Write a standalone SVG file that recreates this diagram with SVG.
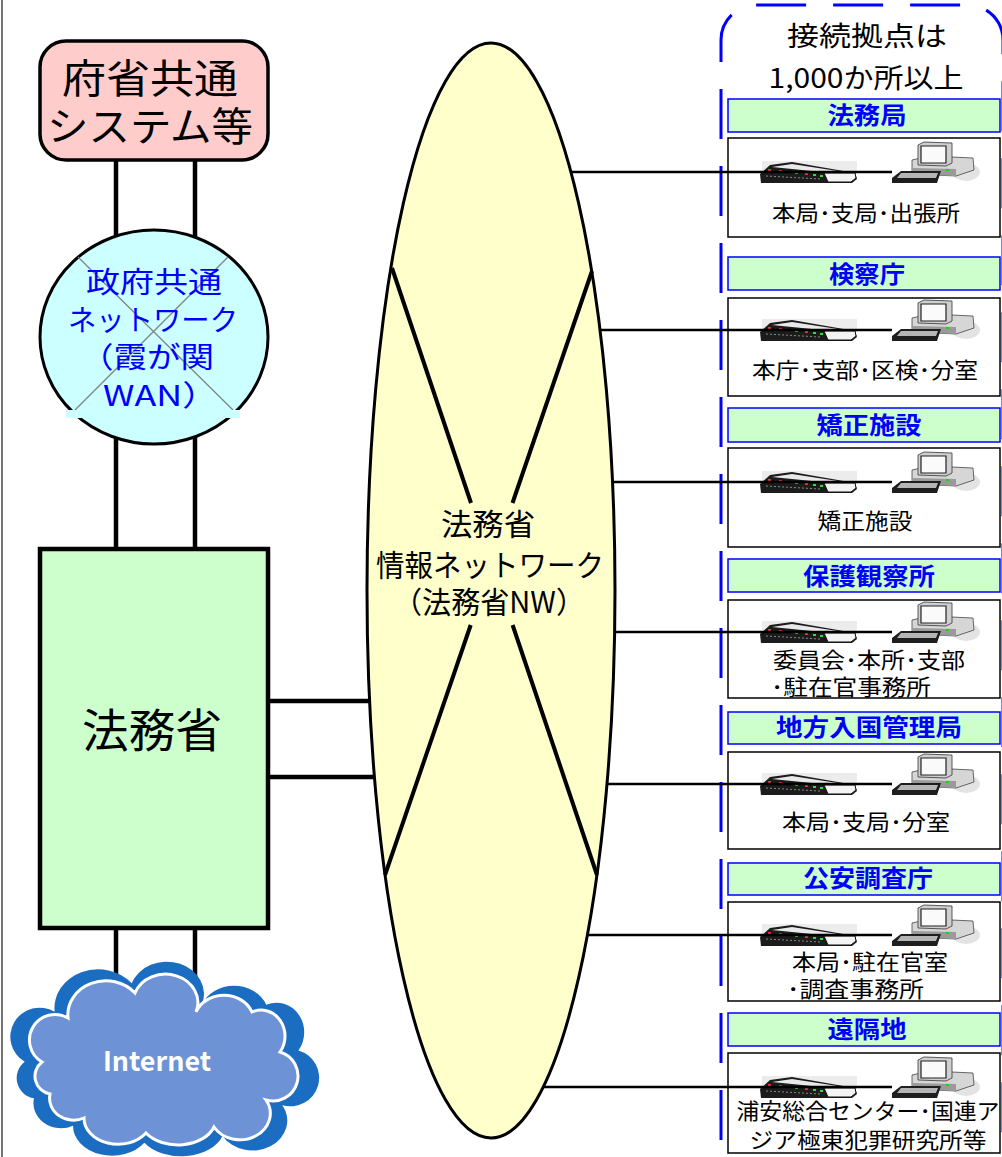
<svg xmlns="http://www.w3.org/2000/svg" xmlns:xlink="http://www.w3.org/1999/xlink" width="1002" height="1157" viewBox="0 0 1002 1157">
  <style>
    text { font-family: "Noto Sans CJK JP", "Noto Sans CJK SC", sans-serif; }
    .dark { fill: #000; }
    .blue { fill: #0000ff; }
    .cat { fill: #ccffcc; stroke: #0000ff; stroke-width: 1.5; }
    .site { fill: #ffffff; stroke: #000; stroke-width: 1.5; }
    .catText { fill: #0000ff; font-weight: bold; font-size: 24px; text-anchor: middle; }
    .siteText { fill: #000; font-size: 22px; }
    .mid { text-anchor: middle; }
    .heavy { stroke: #000; stroke-width: 4.5; fill: none; }
    .light { stroke: #000; stroke-width: 2.3; fill: none; }
    .cross { stroke: #000; stroke-width: 4; }
  </style>
  <defs>
    <!-- network switch -->
    <g id="router">
      <rect x="2" y="-11" width="95" height="13" fill="#ececec"/>
      <path d="M0,2 L10,-7 L32,-10 L95,1 L97,7 L92,11 L1,11 Z" fill="#1c1c1c"/>
      <path d="M12,-5 L32,-8 L84,0 L62,0 Z" fill="#e9e9e9"/>
      <path d="M64,1 L95,1 L96,6 L91,10 L68,10 Z" fill="#f4f4f4" stroke="#111" stroke-width="1"/>
      <rect x="8" y="-3" width="3" height="2" fill="#e33"/>
      <rect x="19" y="-2" width="3" height="2" fill="#e33"/>
      <rect x="27" y="-1" width="3" height="2" fill="#3d3"/>
      <rect x="35" y="0" width="3" height="2" fill="#3d3"/>
      <rect x="45" y="1" width="3" height="2" fill="#e33"/>
      <rect x="53" y="2" width="3" height="2" fill="#3d3"/>
      <rect x="60" y="3" width="3" height="2" fill="#3d3"/>
      <path d="M6,4 L60,7" stroke="#888" stroke-width="1" stroke-dasharray="2 2"/>
    </g>
    <!-- desktop computer -->
    <g id="pc">
      <ellipse cx="206" cy="0" rx="14" ry="9" fill="#e3e3e3"/>
      <path d="M152,-12 L170,-16 L213,-14 L214,-2 L196,4 L152,2 Z" fill="#d6d6d6" stroke="#444" stroke-width="0.8"/>
      <path d="M152,-4 L196,-3 L196,4 L152,2 Z" fill="#9a9a9a"/>
      <path d="M158,-27 L164,-30 L192,-29 L192,-9 L186,-6 L158,-7 Z" fill="#cfcfcf" stroke="#333" stroke-width="0.8"/>
      <path d="M161,-26 L186,-26 L186,-9 L161,-9 Z" fill="#fafafa" stroke="#222" stroke-width="1.2"/>
      <rect x="186" y="-3" width="3" height="2" fill="#2c2"/>
      <path d="M132,6 L141,-1 L181,-1 L177,11 L132,11 Z" fill="#1e1e1e"/>
      <path d="M141,1 L178,1 L176,6 L137,6 Z" fill="#b5b5b5"/>
    </g>
    <path id="cloud" d="M42,1062 A24 24 0 0 1 68,1018 A38 34 0 0 1 135,993 A32 28 0 0 1 196,1012 A30 26 0 0 1 252,1012 A24 26 0 0 1 280,1052 A24 24 0 0 1 266,1100 A30 26 0 0 1 214,1127 A38 26 0 0 1 146,1133 A34 26 0 0 1 84,1118 A24 22 0 0 1 50,1094 A18 18 0 0 1 42,1062 Z"/>
  </defs>

  <rect width="1002" height="1157" fill="#ffffff"/>
  <line x1="2" y1="0" x2="2" y2="1157" stroke="#444" stroke-width="1.5"/>

  <!-- dashed bracket around the connection sites -->
  <path d="M721,1160 L721,40 A35 35 0 0 1 756,5 L968,5 A35 35 0 0 1 1003,40 L1003,1160" fill="none" stroke="#0000ff" stroke-width="3" stroke-dasharray="50 27" stroke-dashoffset="57"/>

  <g id="sites-title">
    <text class="dark mid" x="867" y="46" font-size="27" textLength="160" lengthAdjust="spacingAndGlyphs">接続拠点は</text>
    <text class="dark mid" x="866" y="88" font-size="27" textLength="195" lengthAdjust="spacingAndGlyphs">1,000か所以上</text>
  </g>

  <!-- connection sites -->
  <g id="site-houmukyoku">
    <rect class="cat" x="728" y="99" width="272" height="33"/>
    <text class="catText" x="867" y="124" textLength="79" lengthAdjust="spacingAndGlyphs">法務局</text>
    <rect class="site" x="728" y="138" width="272" height="99"/>
    <use xlink:href="#router" x="760" y="172"/>
    <use xlink:href="#pc" x="760" y="172"/>
    <text class="siteText mid" x="866" y="221" textLength="188" lengthAdjust="spacingAndGlyphs">本局･支局･出張所</text>
  </g>
  <g id="site-kensatsu">
    <rect class="cat" x="728" y="257" width="272" height="33"/>
    <text class="catText" x="867" y="283" textLength="76" lengthAdjust="spacingAndGlyphs">検察庁</text>
    <rect class="site" x="728" y="298" width="272" height="98"/>
    <use xlink:href="#router" x="760" y="330"/>
    <use xlink:href="#pc" x="760" y="330"/>
    <text class="siteText mid" x="865" y="378" textLength="226" lengthAdjust="spacingAndGlyphs">本庁･支部･区検･分室</text>
  </g>
  <g id="site-kyousei">
    <rect class="cat" x="728" y="408" width="272" height="34"/>
    <text class="catText" x="869" y="434" textLength="105" lengthAdjust="spacingAndGlyphs">矯正施設</text>
    <rect class="site" x="728" y="448" width="272" height="99"/>
    <use xlink:href="#router" x="760" y="482"/>
    <use xlink:href="#pc" x="760" y="482"/>
    <text class="siteText mid" x="865" y="529" textLength="95" lengthAdjust="spacingAndGlyphs">矯正施設</text>
  </g>
  <g id="site-hogo">
    <rect class="cat" x="728" y="559" width="272" height="33"/>
    <text class="catText" x="869" y="585" textLength="132" lengthAdjust="spacingAndGlyphs">保護観察所</text>
    <rect class="site" x="728" y="600" width="272" height="98"/>
    <use xlink:href="#router" x="760" y="632"/>
    <use xlink:href="#pc" x="760" y="632"/>
    <text class="siteText mid" x="869" y="668" textLength="192" lengthAdjust="spacingAndGlyphs">委員会･本所･支部</text>
    <text class="siteText" x="771" y="695" textLength="160" lengthAdjust="spacingAndGlyphs">･駐在官事務所</text>
  </g>
  <g id="site-nyukan">
    <rect class="cat" x="728" y="712" width="272" height="32"/>
    <text class="catText" x="869" y="736" textLength="186" lengthAdjust="spacingAndGlyphs">地方入国管理局</text>
    <rect class="site" x="728" y="752" width="272" height="97"/>
    <use xlink:href="#router" x="760" y="784"/>
    <use xlink:href="#pc" x="760" y="784"/>
    <text class="siteText mid" x="866" y="830" textLength="168" lengthAdjust="spacingAndGlyphs">本局･支局･分室</text>
  </g>
  <g id="site-kouan">
    <rect class="cat" x="728" y="863" width="272" height="32"/>
    <text class="catText" x="868" y="887" textLength="130" lengthAdjust="spacingAndGlyphs">公安調査庁</text>
    <rect class="site" x="728" y="902" width="272" height="99"/>
    <use xlink:href="#router" x="760" y="935"/>
    <use xlink:href="#pc" x="760" y="935"/>
    <text class="siteText mid" x="870" y="970" textLength="156" lengthAdjust="spacingAndGlyphs">本局･駐在官室</text>
    <text class="siteText" x="787" y="997" textLength="137" lengthAdjust="spacingAndGlyphs">･調査事務所</text>
  </g>
  <g id="site-enkakuchi">
    <rect class="cat" x="728" y="1013" width="272" height="33"/>
    <text class="catText" x="867" y="1038" textLength="79" lengthAdjust="spacingAndGlyphs">遠隔地</text>
    <rect class="site" x="728" y="1053" width="272" height="100"/>
    <use xlink:href="#router" x="760" y="1087"/>
    <use xlink:href="#pc" x="760" y="1087"/>
    <text class="siteText mid" x="868" y="1119" textLength="263" lengthAdjust="spacingAndGlyphs">浦安総合センター･国連ア</text>
    <text class="siteText mid" x="868" y="1148" textLength="237" lengthAdjust="spacingAndGlyphs">ジア極東犯罪研究所等</text>
  </g>

  <!-- links -->
  <g id="connectors">
    <line class="heavy" x1="116" y1="160" x2="116" y2="237"/>
    <line class="heavy" x1="195" y1="160" x2="195" y2="238"/>
    <line class="heavy" x1="116" y1="437" x2="116" y2="549"/>
    <line class="heavy" x1="195" y1="436" x2="195" y2="549"/>
    <line class="heavy" x1="268" y1="701" x2="373" y2="701"/>
    <line class="heavy" x1="268" y1="777" x2="378" y2="777"/>
    <line class="heavy" x1="116" y1="928" x2="116" y2="990"/>
    <line class="heavy" x1="195" y1="928" x2="195" y2="1012"/>
    <line class="light" x1="567" y1="172" x2="892" y2="172"/>
    <line class="light" x1="596" y1="330" x2="892" y2="330"/>
    <line class="light" x1="608" y1="482" x2="892" y2="482"/>
    <line class="light" x1="610" y1="632" x2="892" y2="632"/>
    <line class="light" x1="603" y1="784" x2="892" y2="784"/>
    <line class="light" x1="583" y1="935" x2="892" y2="935"/>
    <line class="light" x1="540" y1="1087" x2="892" y2="1087"/>
  </g>

  <g id="common-systems">
    <rect x="40" y="41" width="228" height="119" rx="26" fill="#ffcccc" stroke="#000" stroke-width="3.5"/>
    <text class="dark mid" x="150" y="93" font-size="40" textLength="176" lengthAdjust="spacingAndGlyphs">府省共通</text>
    <text class="dark mid" x="150" y="141" font-size="40" textLength="206" lengthAdjust="spacingAndGlyphs">システム等</text>
  </g>

  <g id="gov-wan">
    <ellipse cx="154" cy="337" rx="114" ry="107" fill="#ccffff" stroke="#000" stroke-width="3"/>
    <line x1="78" y1="257" x2="233" y2="410" stroke="#808080" stroke-width="1.2"/>
    <line x1="228" y1="257" x2="75" y2="410" stroke="#808080" stroke-width="1.2"/>
    <rect x="66" y="410" width="174" height="8" fill="#ccffff"/>
    <text class="blue mid" x="154" y="293" font-size="29" textLength="136" lengthAdjust="spacingAndGlyphs">政府共通</text>
    <text class="blue mid" x="153" y="331" font-size="29" textLength="170" lengthAdjust="spacingAndGlyphs">ネットワーク</text>
    <text class="blue" x="80" y="368" font-size="29" textLength="134" lengthAdjust="spacingAndGlyphs">（霞が関</text>
    <text class="blue" x="103" y="406" font-size="29" textLength="115" lengthAdjust="spacingAndGlyphs">WAN）</text>
  </g>

  <g id="ministry">
    <rect x="40" y="549" width="228" height="379" fill="#ccffcc" stroke="#000" stroke-width="4.5"/>
    <text class="dark mid" x="152" y="747" font-size="46" textLength="140" lengthAdjust="spacingAndGlyphs">法務省</text>
  </g>

  <g id="internet">
    <use xlink:href="#cloud" fill="#1b6dc1" transform="translate(157,1063) scale(1.15,1.14) translate(-157,-1063)"/>
    <use xlink:href="#cloud" fill="#6d93d6" stroke="#ffffff" stroke-width="3"/>
    <text x="157" y="1071" fill="#ffffff" font-family="'Liberation Sans', Arial, sans-serif" font-weight="bold" font-size="27" text-anchor="middle" textLength="108" lengthAdjust="spacingAndGlyphs">Internet</text>
  </g>

  <g id="ministry-network">
    <ellipse cx="491" cy="590.5" rx="124" ry="547.5" fill="#ffffcc" stroke="#000" stroke-width="3"/>
    <line class="cross" x1="392" y1="268" x2="471" y2="503"/>
    <line class="cross" x1="512.6" y1="625" x2="597" y2="875"/>
    <line class="cross" x1="592" y1="271" x2="512.5" y2="503"/>
    <line class="cross" x1="470.7" y1="625" x2="385" y2="875"/>
    <text class="dark mid" x="488" y="535" font-size="30" textLength="94" lengthAdjust="spacingAndGlyphs">法務省</text>
    <text class="dark mid" x="490" y="576" font-size="30" textLength="228" lengthAdjust="spacingAndGlyphs">情報ネットワーク</text>
    <text class="dark" x="393" y="613" font-size="30" textLength="192" lengthAdjust="spacingAndGlyphs">（法務省NW）</text>
  </g>
</svg>
